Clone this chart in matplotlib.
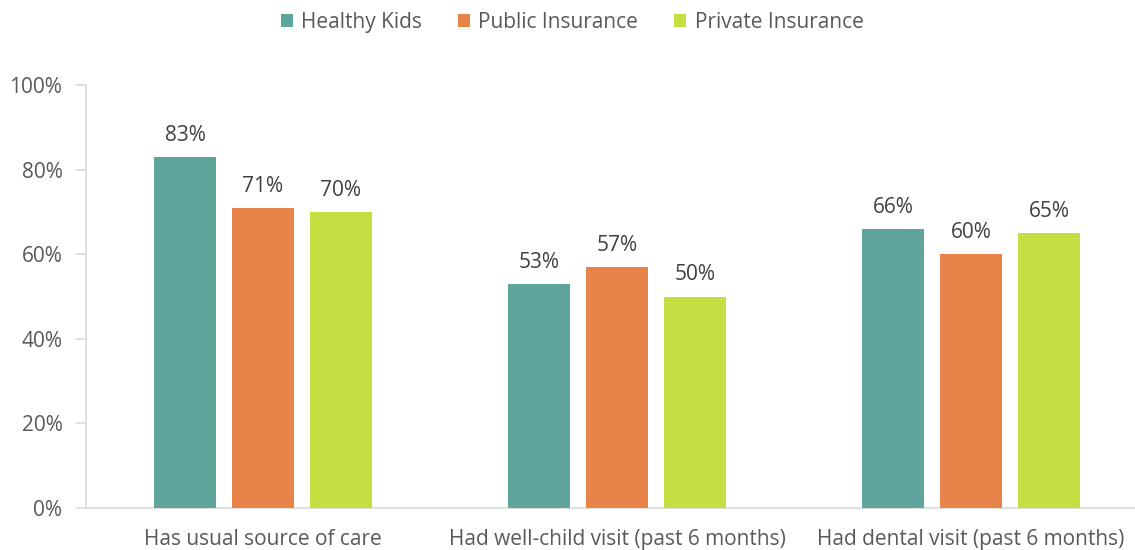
import matplotlib.pyplot as plt
import numpy as np

categories = ['Has usual source of care', 'Had well-child visit (past 6 months)', 'Had dental visit (past 6 months)']
series_names = ['Healthy Kids', 'Public Insurance', 'Private Insurance']
healthy_kids = [83, 53, 66]
public_ins = [71, 57, 60]
private_ins = [70, 50, 65]
colors = ['#5fa59c', '#e8834a', '#c5df43']

plt.rcParams['font.family'] = ['Open Sans', 'DejaVu Sans']

fig = plt.figure(figsize=(11.35, 5.5), dpi=100)
ax = fig.add_axes([86 / 1135, 1 - 508 / 550, 1062 / 1135, 423 / 550])

x = np.arange(len(categories))
width = 0.175
step = 0.22
for i, (name, vals) in enumerate(zip(series_names, [healthy_kids, public_ins, private_ins])):
    bars = ax.bar(x + (i - 1) * step, vals, width, color=colors[i], label=name, zorder=3)
    for b, v in zip(bars, vals):
        ax.annotate(f'{v}%', (b.get_x() + b.get_width() / 2, v), xytext=(0, 8),
                    textcoords='offset points', ha='center', va='bottom',
                    fontsize=15, color='#404040')

ax.set_xlim(-0.5, 2.5)
ax.set_ylim(0, 100)
ax.set_yticks(range(0, 101, 20))
ax.set_yticklabels([f'{t}%' for t in range(0, 101, 20)])
ax.set_xticks(x)
ax.set_xticklabels(categories)
ax.tick_params(axis='y', colors='#d9d9d9', labelcolor='#595959', labelsize=15, length=7, width=1.2, pad=10)
ax.tick_params(axis='x', length=0, labelcolor='#595959', labelsize=15, pad=15)
for s in ['top', 'right']:
    ax.spines[s].set_visible(False)
for s in ['left', 'bottom']:
    ax.spines[s].set_color('#d9d9d9')
    ax.spines[s].set_linewidth(1.2)

fig.legend(loc='upper center', bbox_to_anchor=(572 / 1135, 1.012), ncol=3, frameon=False,
           fontsize=15, labelcolor='#595959', handlelength=0.6, handleheight=0.6,
           handletextpad=0.4, columnspacing=1.7)

plt.savefig('out.png', dpi=100)
